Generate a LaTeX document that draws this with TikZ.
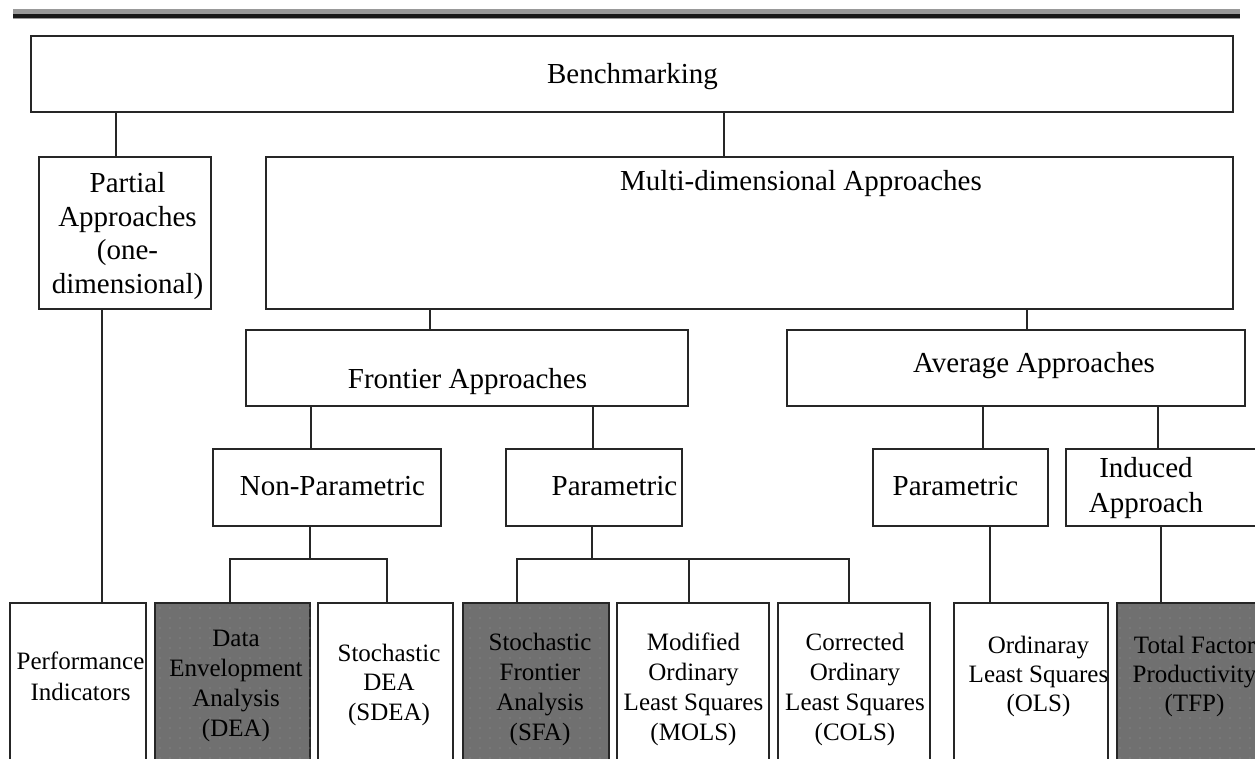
\documentclass[tikz,border=0pt]{standalone}
\usepackage{fontspec}
\setmainfont{Liberation Serif}
\usetikzlibrary{patterns.meta}
\begin{document}
\begin{tikzpicture}[x=1pt,y=-1pt,
  box/.style={draw=black!85, line width=1.5pt, inner sep=0pt, fill=white},
  greybox/.style={box, fill=black!56, postaction={pattern={Dots[distance=10pt,radius=0.6pt]}, pattern color=black!42}},
  conn/.style={draw=black!85, line width=1.5pt},
  big/.style={font=\fontsize{29}{35}\selectfont, inner sep=0pt, anchor=base, text=black},
  small/.style={font=\fontsize{25}{30}\selectfont, inner sep=0pt, anchor=base, text=black}]
\useasboundingbox (0,0) rectangle (1255,758);
\clip (0,0) rectangle (1255,758);

% top rule
\fill[black!40] (13,9) rectangle (1240,19);
\fill[black!90] (13,14) rectangle (1240,18);

% boxes
\node[box, minimum width=1202pt, minimum height=76pt] (bench) at (632,74) {};
\node[box, minimum width=172pt, minimum height=152pt] (partial) at (125,233) {};
\node[box, minimum width=967pt, minimum height=152pt] (multi) at (749.5,233) {};
\node[box, minimum width=442pt, minimum height=76pt] (frontier) at (467,368) {};
\node[box, minimum width=458pt, minimum height=76pt] (average) at (1016,368) {};
\node[box, minimum width=228pt, minimum height=77pt] (nonpar) at (327,487.5) {};
\node[box, minimum width=176pt, minimum height=77pt] (par) at (594,487.5) {};
\node[box, minimum width=175pt, minimum height=77pt] (par2) at (960.5,487.5) {};
\node[box, minimum width=196pt, minimum height=77pt] (induced) at (1164,487.5) {};

\node[box, minimum width=136pt, minimum height=187pt] (perf) at (78,696.5) {};
\node[greybox, minimum width=155pt, minimum height=187pt] (dea) at (232.5,696.5) {};
\node[box, minimum width=135pt, minimum height=187pt] (sdea) at (385.5,696.5) {};
\node[greybox, minimum width=146pt, minimum height=187pt] (sfa) at (536,696.5) {};
\node[box, minimum width=152pt, minimum height=187pt] (mols) at (693,696.5) {};
\node[box, minimum width=152pt, minimum height=187pt] (cols) at (854,696.5) {};
\node[box, minimum width=154pt, minimum height=187pt] (ols) at (1031,696.5) {};
\node[greybox, minimum width=154pt, minimum height=187pt] (tfp) at (1194,696.5) {};

% connectors
\draw[conn] (bench.south -| 116,0) -- (partial.north -| 116,0);
\draw[conn] (bench.south -| 724,0) -- (multi.north -| 724,0);
\draw[conn] (multi.south -| 430,0) -- (frontier.north -| 430,0);
\draw[conn] (multi.south -| 1027,0) -- (average.north -| 1027,0);
\draw[conn] (frontier.south -| 311,0) -- (nonpar.north -| 311,0);
\draw[conn] (frontier.south -| 593,0) -- (par.north -| 593,0);
\draw[conn] (average.south -| 983,0) -- (par2.north -| 983,0);
\draw[conn] (average.south -| 1158,0) -- (induced.north -| 1158,0);
\draw[conn] (partial.south -| 102,0) -- (perf.north -| 102,0);

\coordinate (bar1) at (310,559);
\draw[conn] (nonpar.south -| bar1) -- (bar1);
\draw[conn] (dea.north -| 230,0) |- (bar1) -| (sdea.north -| 387,0);

\coordinate (bar2) at (592,559);
\coordinate (bar2m) at (689,559);
\draw[conn] (par.south -| bar2) -- (bar2);
\draw[conn] (sfa.north -| 517,0) |- (bar2) -| (cols.north -| 849,0);
\draw[conn] (mols.north -| bar2m) -- (bar2m);

\draw[conn] (par2.south -| 990,0) -- (ols.north -| 990,0);
\draw[conn] (induced.south -| 1161,0) -- (tfp.north -| 1161,0);

% texts
\node[big] (t1) at (632.5,83) {Benchmarking};
\node[big] (t2a) at (127.5,192) {Partial};
\node[big] (t2b) at (127.5,226) {Approaches};
\node[big] (t2c) at (127.5,259) {(one-};
\node[big] (t2d) at (127.5,293) {dimensional)};
\node[big, anchor=base west] (t3) at (620,190) {Multi-dimensional Approaches};
\node[big] (t4) at (467.5,388) {Frontier Approaches};
\node[big] (t5) at (1034,372) {Average Approaches};
\node[big] (t6) at (332.5,495) {Non-Parametric};
\node[big] (t7) at (614.5,495) {Parametric};
\node[big] (t8) at (955.5,495) {Parametric};
\node[big] (t9a) at (1146,477) {Induced};
\node[big] (t9b) at (1146,512) {Approach};

\node[small] (p1) at (80.5,669) {Performance};
\node[small] (p2) at (80.5,700) {Indicators};

\node[small] (d1) at (236,646) {Data};
\node[small] (d2) at (236,676) {Envelopment};
\node[small] (d3) at (236,706) {Analysis};
\node[small] (d4) at (236,736) {(DEA)};

\node[small] (s1) at (389,661) {Stochastic};
\node[small] (s2) at (389,690.5) {DEA};
\node[small] (s3) at (389,720) {(SDEA)};

\node[small] (f1) at (540,650) {Stochastic};
\node[small] (f2) at (540,680) {Frontier};
\node[small] (f3) at (540,710) {Analysis};
\node[small] (f4) at (540,740) {(SFA)};

\node[small] (m1) at (693.5,650) {Modified};
\node[small] (m2) at (693.5,680) {Ordinary};
\node[small] (m3) at (693.5,710) {Least Squares};
\node[small] (m4) at (693.5,740) {(MOLS)};

\node[small] (c1) at (855,650) {Corrected};
\node[small] (c2) at (855,680) {Ordinary};
\node[small] (c3) at (855,710) {Least Squares};
\node[small] (c4) at (855,740) {(COLS)};

\node[small] (o1) at (1038.5,653) {Ordinaray};
\node[small] (o2) at (1038.5,682) {Least Squares};
\node[small] (o3) at (1038.5,711) {(OLS)};

\node[small] (q1) at (1194.5,653) {Total Factor};
\node[small] (q2) at (1194.5,682) {Productivity};
\node[small] (q3) at (1194.5,711) {(TFP)};
\end{tikzpicture}
\end{document}
